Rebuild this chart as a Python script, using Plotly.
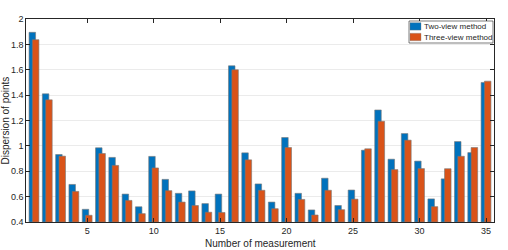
import plotly.graph_objects as go

measurements = list(range(1, 36))
two_view = [1.895, 1.41, 0.932, 0.696, 0.50, 0.985, 0.909, 0.62, 0.52, 0.917,
            0.736, 0.626, 0.645, 0.545, 0.62, 1.631, 0.945, 0.70, 0.557, 1.066,
            0.626, 0.495, 0.745, 0.53, 0.652, 0.966, 1.283, 0.895, 1.097, 0.88,
            0.582, 0.74, 1.034, 0.947, 1.50]
three_view = [1.837, 1.363, 0.919, 0.641, 0.453, 0.94, 0.846, 0.57, 0.466, 0.826,
              0.647, 0.557, 0.53, 0.477, 0.475, 1.60, 0.89, 0.65, 0.505, 0.987,
              0.578, 0.455, 0.65, 0.497, 0.58, 0.977, 1.194, 0.813, 1.045, 0.821,
              0.521, 0.82, 0.918, 0.987, 1.51]
series_names = ["Two-view method", "Three-view method"]
series_colors = ["#0072BD", "#D95319"]
x_ticks = [5, 10, 15, 20, 25, 30, 35]
y_ticks = [0.4, 0.6, 0.8, 1, 1.2, 1.4, 1.6, 1.8, 2]
y_ticklabels = ["0.4", "0.6", "0.8", "1", "1.2", "1.4", "1.6", "1.8", "2"]

FONT = "Liberation Sans, Arial, Helvetica, sans-serif"
TXT = "#262626"

fig = go.Figure()
for vals, name, col, off in [(two_view, series_names[0], series_colors[0], -0.37),
                             (three_view, series_names[1], series_colors[1], -0.12)]:
    fig.add_trace(go.Bar(x=measurements, y=[v - 0.4 for v in vals], base=0.4,
                         name=name, offset=off, width=0.49,
                         marker=dict(color=col, line=dict(color="rgba(120,120,120,0.6)", width=1))))

axis_common = dict(showline=True, linecolor=TXT, linewidth=0.6, mirror="ticks",
                   ticks="inside", ticklen=4, tickcolor=TXT, tickwidth=0.6,
                   gridcolor="#ebebeb", gridwidth=1, zeroline=False, automargin=False,
                   tickfont=dict(family=FONT, size=9, color=TXT))

fig.update_layout(
    width=508, height=250,
    margin=dict(l=26, r=14, t=19, b=28),
    paper_bgcolor="white", plot_bgcolor="white",
    barmode="overlay", showlegend=False,
    font=dict(family=FONT, size=9, color=TXT),
    xaxis=dict(range=[0.4, 35.6], tickvals=x_ticks, showgrid=False, **axis_common),
    yaxis=dict(range=[0.4, 2.0], tickvals=y_ticks, ticktext=y_ticklabels,
               showgrid=True, **axis_common),
)

# axis titles
fig.add_annotation(text="Number of measurement", xref="paper", yref="paper",
                   x=0.5, y=(222 - 243) / 203, xanchor="center", yanchor="middle",
                   showarrow=False, font=dict(family=FONT, size=10, color=TXT))
fig.add_annotation(text="Dispersion of points", xref="paper", yref="paper",
                   x=(5 - 26) / 468, y=0.5, xanchor="center", yanchor="middle",
                   textangle=-90, showarrow=False, font=dict(family=FONT, size=10, color=TXT))

# legend box (compact, MATLAB-like)
def px(xp):
    return (xp - 26) / 468

def py(yp):
    return (222 - yp) / 203

fig.add_shape(type="rect", xref="paper", yref="paper",
              x0=px(409), x1=px(493), y0=py(43), y1=py(21),
              line=dict(color=TXT, width=0.6), fillcolor="white")
for i, (name, col) in enumerate(zip(series_names, series_colors)):
    top = 22.7 + i * 10.6
    fig.add_shape(type="rect", xref="paper", yref="paper",
                  x0=px(410), x1=px(421), y0=py(top + 7.4), y1=py(top),
                  line=dict(color="rgba(120,120,120,0.6)", width=0.6), fillcolor=col)
    fig.add_annotation(text=name, xref="paper", yref="paper",
                       x=px(421.5), y=py(top + 3.9), xanchor="left", yanchor="middle",
                       showarrow=False, font=dict(family=FONT, size=8, color=TXT))

fig.write_html("out.html", config={"displayModeBar": False},
               post_script="document.body.style.margin='0';document.body.style.overflow='hidden';")
